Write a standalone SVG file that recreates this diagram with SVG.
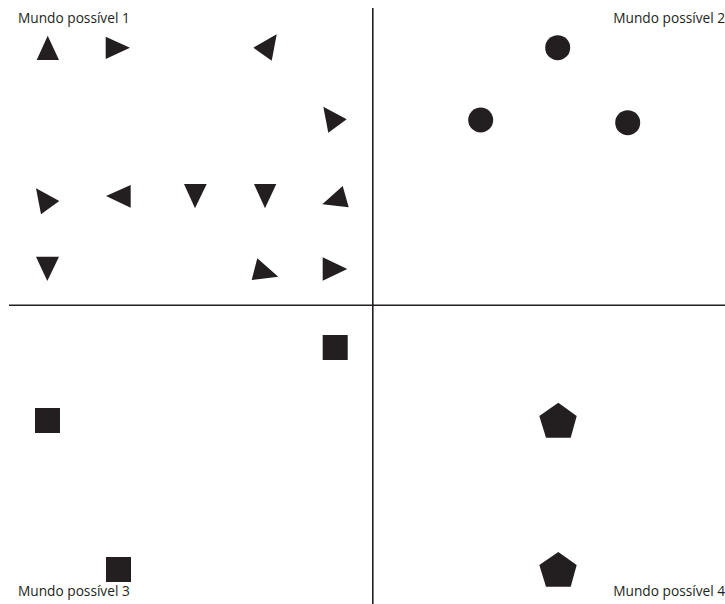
<svg xmlns="http://www.w3.org/2000/svg" width="725" height="604" viewBox="0 0 725 604">
<style>
.s{fill:#231f20}
.t{font-family:"Open Sans","Liberation Sans",sans-serif;font-size:13.7px;fill:#231f20}
.l{stroke:#231f20;stroke-width:1.6;fill:none}
</style>
<rect width="725" height="604" fill="#fff"/>
<g id="axes">
<line class="l" x1="372.8" y1="8" x2="372.8" y2="604"/>
<line class="l" x1="9" y1="305.3" x2="725" y2="305.3"/>
</g>
<g id="world1">
<text class="t" x="18" y="23">Mundo possível 1</text>
<polygon class="s" points="36.7,60 59,60 47.7,35.7"/>
<polygon class="s" points="105.7,36.7 105.7,59 130,47.7"/>
<polygon class="s" points="253.3,47.7 276.7,34.3 271.7,60.7"/>
<polygon class="s" points="323.3,106.7 328.3,132.7 346.7,119.3"/>
<polygon class="s" points="36,188.3 41,214.3 59.3,201"/>
<polygon class="s" points="106,196 130.7,185 130.7,207.7"/>
<polygon class="s" points="184,184 206.7,184 195,208.3"/>
<polygon class="s" points="254,184 276.3,184 265,208.3"/>
<polygon class="s" points="322.3,204.3 348.7,207.3 342.7,186"/>
<polygon class="s" points="36,256.7 59,256.7 47.3,281"/>
<polygon class="s" points="251.7,280 278.3,276.7 257.3,258.3"/>
<polygon class="s" points="322.7,257.3 322.7,280.7 347.3,269"/>
</g>
<g id="world2">
<text class="t" x="725" y="23" text-anchor="end">Mundo possível 2</text>
<circle class="s" cx="557.7" cy="47.7" r="12.5"/>
<circle class="s" cx="480.7" cy="120" r="12.5"/>
<circle class="s" cx="627.7" cy="122.7" r="12.5"/>
</g>
<g id="world3">
<text class="t" x="18" y="596">Mundo possível 3</text>
<rect class="s" x="322.7" y="335" width="25" height="25"/>
<rect class="s" x="35" y="408" width="25" height="25"/>
<rect class="s" x="106" y="557" width="25" height="25"/>
</g>
<g id="world4">
<text class="t" x="725" y="596" text-anchor="end">Mundo possível 4</text>
<polygon class="s" points="558.3,402.7 576.7,416 570.7,437.7 546,437.7 539.3,416"/>
<polygon class="s" points="558.3,552 576.7,565 570.7,586.7 546,586.7 539.3,565"/>
</g>
</svg>
